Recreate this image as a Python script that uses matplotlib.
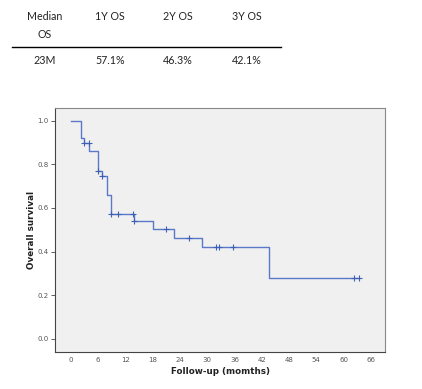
import numpy as np
import matplotlib
matplotlib.use("Agg")
import matplotlib.pyplot as plt

# Table data
table_headers = ["Median\nOS", "1Y OS", "2Y OS", "3Y OS"]
table_values = ["23M", "57.1%", "46.3%", "42.1%"]

# Kaplan-Meier data (months, survival)
event_times = [0, 2.2, 3.0, 4.1, 6.1, 6.9, 8.0, 8.9, 14.0, 18.0, 22.8, 28.8, 43.6]
surv_values = [1.0, 0.921, 0.897, 0.859, 0.770, 0.745, 0.659, 0.571, 0.538, 0.505, 0.463, 0.421, 0.281]
end_time = 63.4
censor_times = [3.0, 4.0, 6.1, 6.9, 8.9, 10.5, 13.7, 14.0, 20.9, 25.9, 31.9, 32.6, 35.7, 62.3, 63.4]

x_ticks = [0, 6, 12, 18, 24, 30, 36, 42, 48, 54, 60, 66]
y_ticks = [0.0, 0.2, 0.4, 0.6, 0.8, 1.0]

W, H = 422, 389
fig = plt.figure(figsize=(W / 100, H / 100), dpi=100)
fig.patch.set_facecolor("white")

def px(x, y):
    return x / W, 1 - y / H

font = "Lato"
fs = 7.7
# table
col_x = [45, 110, 178, 247]
for cx, t in zip(col_x, table_headers):
    for i, part in enumerate(t.split("\n")):
        fig.text(*px(cx, 17 + 17 * i), part, ha="center", va="center", fontsize=fs,
                 family=font, color="#222222")
for cx, t in zip(col_x, table_values):
    fig.text(*px(cx, 61), t, ha="center", va="center", fontsize=fs, family=font,
             color="#222222")
fig.add_artist(plt.Line2D([12 / W, 281 / W], [1 - 47 / H, 1 - 47 / H],
                          color="black", lw=1.0, transform=fig.transFigure))

# axes
left, right, top, bottom = 55, 385, 108, 352
ax = fig.add_axes([left / W, 1 - bottom / H, (right - left) / W, (bottom - top) / H])
ax.set_facecolor("#f0f0f0")
ax.set_xlim(-3.45, 69.1)
ax.set_ylim(-0.06, 1.058)

line_color = "#5b79c9"
xs = list(event_times) + [end_time]
ys = list(surv_values) + [surv_values[-1]]
ax.step(xs, ys, where="post", color=line_color, lw=1.0)

ct = np.array(censor_times)
idx = np.searchsorted(np.array(event_times), ct, side="right") - 1
cs = np.array(surv_values)[idx]
ax.plot(ct, cs, linestyle="none", marker="+", markersize=4.2, mew=0.8, color="#3f5fb5")

ax.set_xticks(x_ticks)
ax.set_xticklabels([str(v) for v in x_ticks])
ax.set_yticks(y_ticks)
ax.set_yticklabels([f"{v:.1f}" for v in y_ticks])
ax.tick_params(axis="x", length=0, pad=3.5, labelsize=5, labelcolor="#555555")
ax.tick_params(axis="y", length=3, width=0.6, color="#444444", pad=1.5, labelsize=5,
               labelcolor="#555555")
for s in ["left", "bottom"]:
    ax.spines[s].set_color("#444444")
    ax.spines[s].set_linewidth(0.8)
for s in ["top", "right"]:
    ax.spines[s].set_color("#888888")
    ax.spines[s].set_linewidth(0.8)

fig.text(*px(220, 372), "Follow-up (momths)", ha="center", va="center",
         fontsize=6.3, fontweight="bold", family="DejaVu Sans", color="#222222")
fig.text(*px(32, 230), "Overall survival", ha="center", va="center", rotation=90,
         fontsize=6.3, fontweight="bold", family="DejaVu Sans", color="#222222")

fig.savefig("out.png", dpi=100)
